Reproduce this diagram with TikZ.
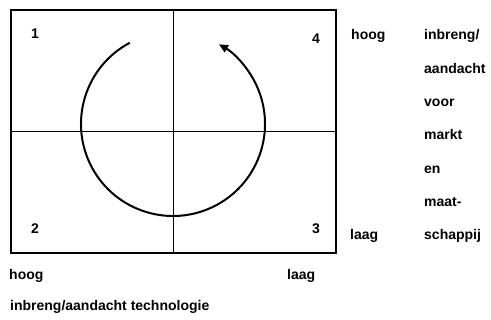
\documentclass[tikz,border=0pt]{standalone}
\usepackage{fontspec}
\setmainfont{Liberation Sans}
\usepackage{tikz}
\usetikzlibrary{arrows.meta,positioning}

\begin{document}
\begin{tikzpicture}[
    x=1pt, y=-1pt,
    quad/.style={rectangle, draw, line width=1.9pt, outer sep=0pt, minimum width=162.5pt, minimum height=121.5pt},
    num/.style={font=\fontsize{14}{16}\selectfont\bfseries, inner sep=0pt},
    lbl/.style={font=\fontsize{14}{16}\selectfont\bfseries, inner sep=0pt, anchor=base west},
    turn/.style={-{Triangle[length=9pt,width=8pt]}, line width=2pt}
]
\useasboundingbox (0,0) rectangle (491,320);

% Quadrants
\node[quad] (q1) at (92.25,70.75) {};
\node[quad, right=0pt of q1] (q4) {};
\node[quad, below=0pt of q1] (q2) {};
\node[quad, below=0pt of q4] (q3) {};

% Numbers
\node[num] (n1) at ([shift={(24,24)}]q1.north west) {1};
\node[num] (n4) at ([shift={(-20,29)}]q4.north east) {4};
\node[num] (n2) at ([shift={(24,-24)}]q2.south west) {2};
\node[num] (n3) at ([shift={(-20,-24)}]q3.south east) {3};

% Cycle
\coordinate (ctr) at (173,124);
\draw[turn] ([shift={(-118:92)}]ctr) arc[start angle=-118, end angle=-420, radius=92];

% Axis below
\node[lbl] (xhi) at (9,280) {hoog};
\node[lbl] (xlo) at (287,280) {laag};
\node[lbl] (xax) at (10,311) {inbreng/aandacht technologie};

% Axis right
\node[lbl] (yhi) at (351,40) {hoog};
\node[lbl] (ylo) at (350,240) {laag};
\node[lbl] (w1) at (424,40) {inbreng/};
\node[lbl] (w2) at ([yshift=-33.3pt]w1.base west) {aandacht};
\node[lbl] (w3) at ([yshift=-33.3pt]w2.base west) {voor};
\node[lbl] (w4) at ([yshift=-33.3pt]w3.base west) {markt};
\node[lbl] (w5) at ([yshift=-33.3pt]w4.base west) {en};
\node[lbl] (w6) at ([yshift=-33.3pt]w5.base west) {maat-};
\node[lbl] (w7) at ([yshift=-33.3pt]w6.base west) {schappij};

\end{tikzpicture}
\end{document}
